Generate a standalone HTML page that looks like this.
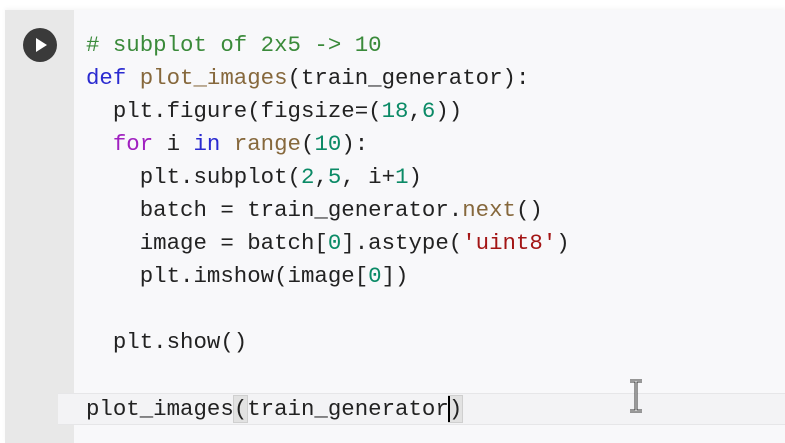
<!DOCTYPE html>
<html><head><meta charset="utf-8"><style>
html,body{margin:0;padding:0;width:785px;height:443px;overflow:hidden;background:#fff;}
.cell{position:absolute;left:5px;top:10px;width:780px;height:433px;background:#f8f8fa;box-shadow:0 -2px 4px rgba(0,0,0,0.04);}
.gutter{position:absolute;left:5px;top:10px;width:69px;height:433px;background:#e8e8e8;}
.play{position:absolute;left:23px;top:28px;width:34px;height:34px;border-radius:50%;background:#3a3a3a;}
.play:after{content:"";position:absolute;left:13px;top:10px;border-left:11px solid #fff;border-top:7px solid transparent;border-bottom:7px solid transparent;}
.hl{position:absolute;left:58px;top:393px;width:727px;height:30px;background:#f3f3f5;border-top:1px solid #e6e6e8;border-bottom:1px solid #e6e6e8;}
pre{position:absolute;left:86px;top:28.5px;margin:0;font-family:"Liberation Mono",monospace;font-size:22.4px;line-height:33.1px;color:#222;}
.c{color:#3a8a3a}.k{color:#2a2ad0}.f{color:#86683c}.n{color:#0b8a66}.s{color:#a31515}.m{color:#a020c0}
.b{background:#e2e2e2;outline:1px solid #cfcfcf;}
.cur{position:absolute;left:448px;top:396px;width:2px;height:26px;background:#000;}
</style></head><body>
<div class="cell"></div>
<div class="gutter"></div>
<div class="play"></div>
<div class="hl"></div>
<pre><span class="c"># subplot of 2x5 -> 10</span>
<span class="k">def</span> <span class="f">plot_images</span>(train_generator):
  plt.figure(figsize=(<span class="n">18</span>,<span class="n">6</span>))
  <span class="m">for</span> i <span class="k">in</span> <span class="f">range</span>(<span class="n">10</span>):
    plt.subplot(<span class="n">2</span>,<span class="n">5</span>, i+<span class="n">1</span>)
    batch = train_generator.<span class="f">next</span>()
    image = batch[<span class="n">0</span>].astype(<span class="s">'uint8'</span>)
    plt.imshow(image[<span class="n">0</span>])

  plt.show()

plot_images<span class="b">(</span>train_generato<span>r</span><span class="b">)</span></pre>
<div class="cur"></div>
<svg style="position:absolute;left:628px;top:379px" width="18" height="36"><path d="M2 2h12M8 2v30M2 32h12" stroke="#333" stroke-width="3" fill="none"/><path d="M2 2h12M8 2v30M2 32h12" stroke="#fff" stroke-width="1" fill="none"/></svg>
</body></html>
